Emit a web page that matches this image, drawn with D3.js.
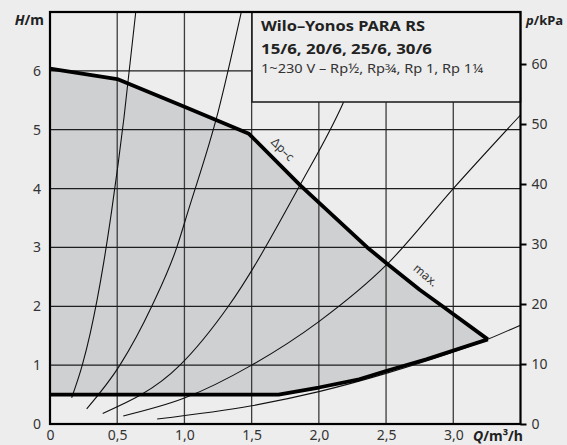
<!DOCTYPE html>
<html>
<head>
<meta charset="utf-8">
<script src="https://cdn.jsdelivr.net/npm/d3@7"></script>
<style>
  body { margin: 0; background: #ededed; }
  svg { display: block; font-family: "Noto Sans", sans-serif; }
</style>
</head>
<body>
<svg id="chart" width="567" height="445"></svg>
<script>
// axis ticks
var qTicks = [0, 0.5, 1.0, 1.5, 2.0, 2.5, 3.0];
var qTickLabels = ["0", "0,5", "1,0", "1,5", "2,0", "2,5", "3,0"];
var hTicks = [0, 1, 2, 3, 4, 5, 6];
var pTicks = [0, 10, 20, 30, 40, 50, 60];

// max. curve (upper bound) and min curve (lower bound)
var maxQ = [0, 0.5, 1.0, 1.48, 1.86, 2.36, 2.51, 2.75, 2.92, 3.257];
var maxH = [6.04, 5.86, 5.39, 4.93, 4.06, 3.0, 2.72, 2.28, 2.0, 1.438];
var minQ = [0, 1.70, 2.0, 2.3, 2.5, 2.8, 3.257];
var minH = [0.5, 0.5, 0.62, 0.76, 0.9, 1.1, 1.438];

// system curves
var sys1Q = [0.161, 0.24, 0.30, 0.40, 0.459, 0.55, 0.638];
var sys1H = [0.446, 1.0, 1.55, 2.75, 3.63, 5.2, 7.0];
var sys2Q = [0.273, 0.52, 0.757, 0.943, 1.029, 1.25, 1.426];
var sys2H = [0.256, 1.0, 2.0, 3.0, 3.63, 5.3, 7.03];
var sys3Q = [0.392, 0.967, 1.327, 1.86, 2.18, 2.45];
var sys3H = [0.18, 1.0, 2.0, 4.06, 5.45, 7.0];
var sys4Q = [0.545, 1.0, 1.5, 2.0, 2.51, 3.0, 3.5];
var sys4H = [0.136, 0.44, 1.0, 1.74, 2.72, 4.0, 5.25];
var sys5Q = [0.797, 1.5, 2.0, 2.5, 3.257, 3.5];
var sys5H = [0.085, 0.31, 0.55, 0.86, 1.44, 1.68];

var svg = d3.select("#chart");
var pl = 50, pr = 520.5, pt = 12, pb = 424;

var x = d3.scaleLinear().domain([0, 3.5]).range([pl, pr]);
var y = d3.scaleLinear().domain([0, 7]).range([pb, pt]);
var yp = d3.scaleLinear().domain([0, 7 * 9.81]).range([pb, pt]);

function pts(qs, hs) { return qs.map(function(q, i) { return [q, hs[i]]; }); }

var line = d3.line().x(function(d){ return x(d[0]); }).y(function(d){ return y(d[1]); });
var smooth = d3.line().x(function(d){ return x(d[0]); }).y(function(d){ return y(d[1]); }).curve(d3.curveMonotoneX);

svg.append("clipPath").attr("id", "plotclip")
  .append("rect").attr("x", pl).attr("y", pt).attr("width", pr - pl).attr("height", pb - pt);

svg.append("rect").attr("x", pl).attr("y", pt).attr("width", pr - pl).attr("height", pb - pt)
  .attr("fill", "#ededed");

// shaded operating field
var field = pts(maxQ, maxH).concat(pts(minQ, minH).reverse());
svg.append("path").attr("d", line(field) + "Z").attr("fill", "#cfd0d2");

// grid
var g = svg.append("g");
g.selectAll(".vg").data(qTicks.slice(1)).enter().append("line")
  .attr("x1", function(d){ return x(d); }).attr("x2", function(d){ return x(d); })
  .attr("y1", pt).attr("y2", pb)
  .attr("stroke", "#3c3c3c").attr("stroke-width", 1.3);
g.selectAll(".hg").data(hTicks.slice(1)).enter().append("line")
  .attr("x1", pl).attr("x2", pr)
  .attr("y1", function(d){ return y(d); }).attr("y2", function(d){ return y(d); })
  .attr("stroke", "#1e1e1e").attr("stroke-width", 1.3);

// system curves
var sys = [pts(sys1Q, sys1H), pts(sys2Q, sys2H), pts(sys3Q, sys3H), pts(sys4Q, sys4H), pts(sys5Q, sys5H)];
svg.append("g").attr("clip-path", "url(#plotclip)")
  .selectAll("path").data(sys).enter().append("path")
  .attr("d", smooth).attr("fill", "none").attr("stroke", "#111").attr("stroke-width", 1.1);

// bounding curves
svg.append("path").attr("d", line(pts(maxQ, maxH))).attr("fill", "none")
  .attr("stroke", "#000").attr("stroke-width", 3.8).attr("stroke-linejoin", "round");
svg.append("path").attr("d", line(pts(minQ, minH))).attr("fill", "none")
  .attr("stroke", "#000").attr("stroke-width", 3.8).attr("stroke-linejoin", "round");

// curve labels
svg.append("text").attr("transform", "translate(282,150) rotate(45)")
  .attr("text-anchor", "middle").attr("dominant-baseline", "middle")
  .attr("font-size", 12).attr("fill", "#333").text("Δp–c");
svg.append("text").attr("transform", "translate(425,276) rotate(40)")
  .attr("text-anchor", "middle").attr("dominant-baseline", "middle")
  .attr("font-size", 12).attr("fill", "#333").text("max.");

// title box
svg.append("rect").attr("x", 252).attr("y", pt).attr("width", pr - 252).attr("height", 102 - pt)
  .attr("fill", "#ededed").attr("stroke", "#222").attr("stroke-width", 1.6);
svg.append("text").attr("x", 261).attr("y", 31).attr("font-size", 15).attr("font-weight", "bold")
  .attr("fill", "#222").attr("textLength", 164).attr("lengthAdjust", "spacingAndGlyphs")
  .text("Wilo–Yonos PARA RS");
svg.append("text").attr("x", 261).attr("y", 54).attr("font-size", 15).attr("font-weight", "bold")
  .attr("fill", "#222").attr("textLength", 171).attr("lengthAdjust", "spacingAndGlyphs")
  .text("15/6, 20/6, 25/6, 30/6");
svg.append("text").attr("x", 261).attr("y", 73).attr("font-size", 12)
  .attr("fill", "#333").attr("textLength", 222).attr("lengthAdjust", "spacingAndGlyphs")
  .text("1~230 V – Rp½, Rp¾, Rp 1, Rp 1¼");

// frame
svg.append("rect").attr("x", pl).attr("y", pt).attr("width", pr - pl).attr("height", pb - pt)
  .attr("fill", "none").attr("stroke", "#000").attr("stroke-width", 2.2);

// left axis labels
svg.append("g").attr("transform", "translate(" + pl + ",0)")
  .call(d3.axisLeft(y).tickValues(hTicks).tickSize(0).tickPadding(9).tickFormat(d3.format("d")))
  .call(function(a){ a.select(".domain").remove(); a.selectAll("text").attr("font-size", 14).attr("fill", "#333").attr("font-family", "Noto Sans"); });

// right axis (kPa)
svg.append("g").attr("transform", "translate(" + pr + ",0)")
  .call(d3.axisRight(yp).tickValues(pTicks).tickSize(6).tickPadding(5).tickFormat(d3.format("d")))
  .call(function(a){
    a.select(".domain").remove();
    a.selectAll("line").attr("stroke", "#000").attr("stroke-width", 2);
    a.selectAll("text").attr("font-size", 14).attr("fill", "#333").attr("font-family", "Noto Sans");
  });

// bottom axis labels
svg.append("g").attr("transform", "translate(0," + pb + ")")
  .call(d3.axisBottom(x).tickValues(qTicks).tickSize(0).tickPadding(6)
    .tickFormat(function(d, i){ return qTickLabels[i]; }))
  .call(function(a){ a.select(".domain").remove(); a.selectAll("text").attr("font-size", 14).attr("fill", "#333").attr("font-family", "Noto Sans"); });

// axis titles
var th = svg.append("text").attr("x", 44).attr("y", 25).attr("text-anchor", "end")
  .attr("font-size", 14).attr("font-weight", "bold").attr("fill", "#222");
th.append("tspan").attr("font-style", "italic").text("H");
th.append("tspan").text("/m");

var tp = svg.append("text").attr("x", 526).attr("y", 25)
  .attr("font-size", 13).attr("font-weight", "bold").attr("fill", "#222");
tp.append("tspan").attr("font-style", "italic").text("p");
tp.append("tspan").text("/kPa");

var tq = svg.append("text").attr("x", 473).attr("y", 441)
  .attr("font-size", 14).attr("font-weight", "bold").attr("fill", "#222");
tq.append("tspan").attr("font-style", "italic").text("Q");
tq.append("tspan").text("/m³/h");
</script>
</body>
</html>
